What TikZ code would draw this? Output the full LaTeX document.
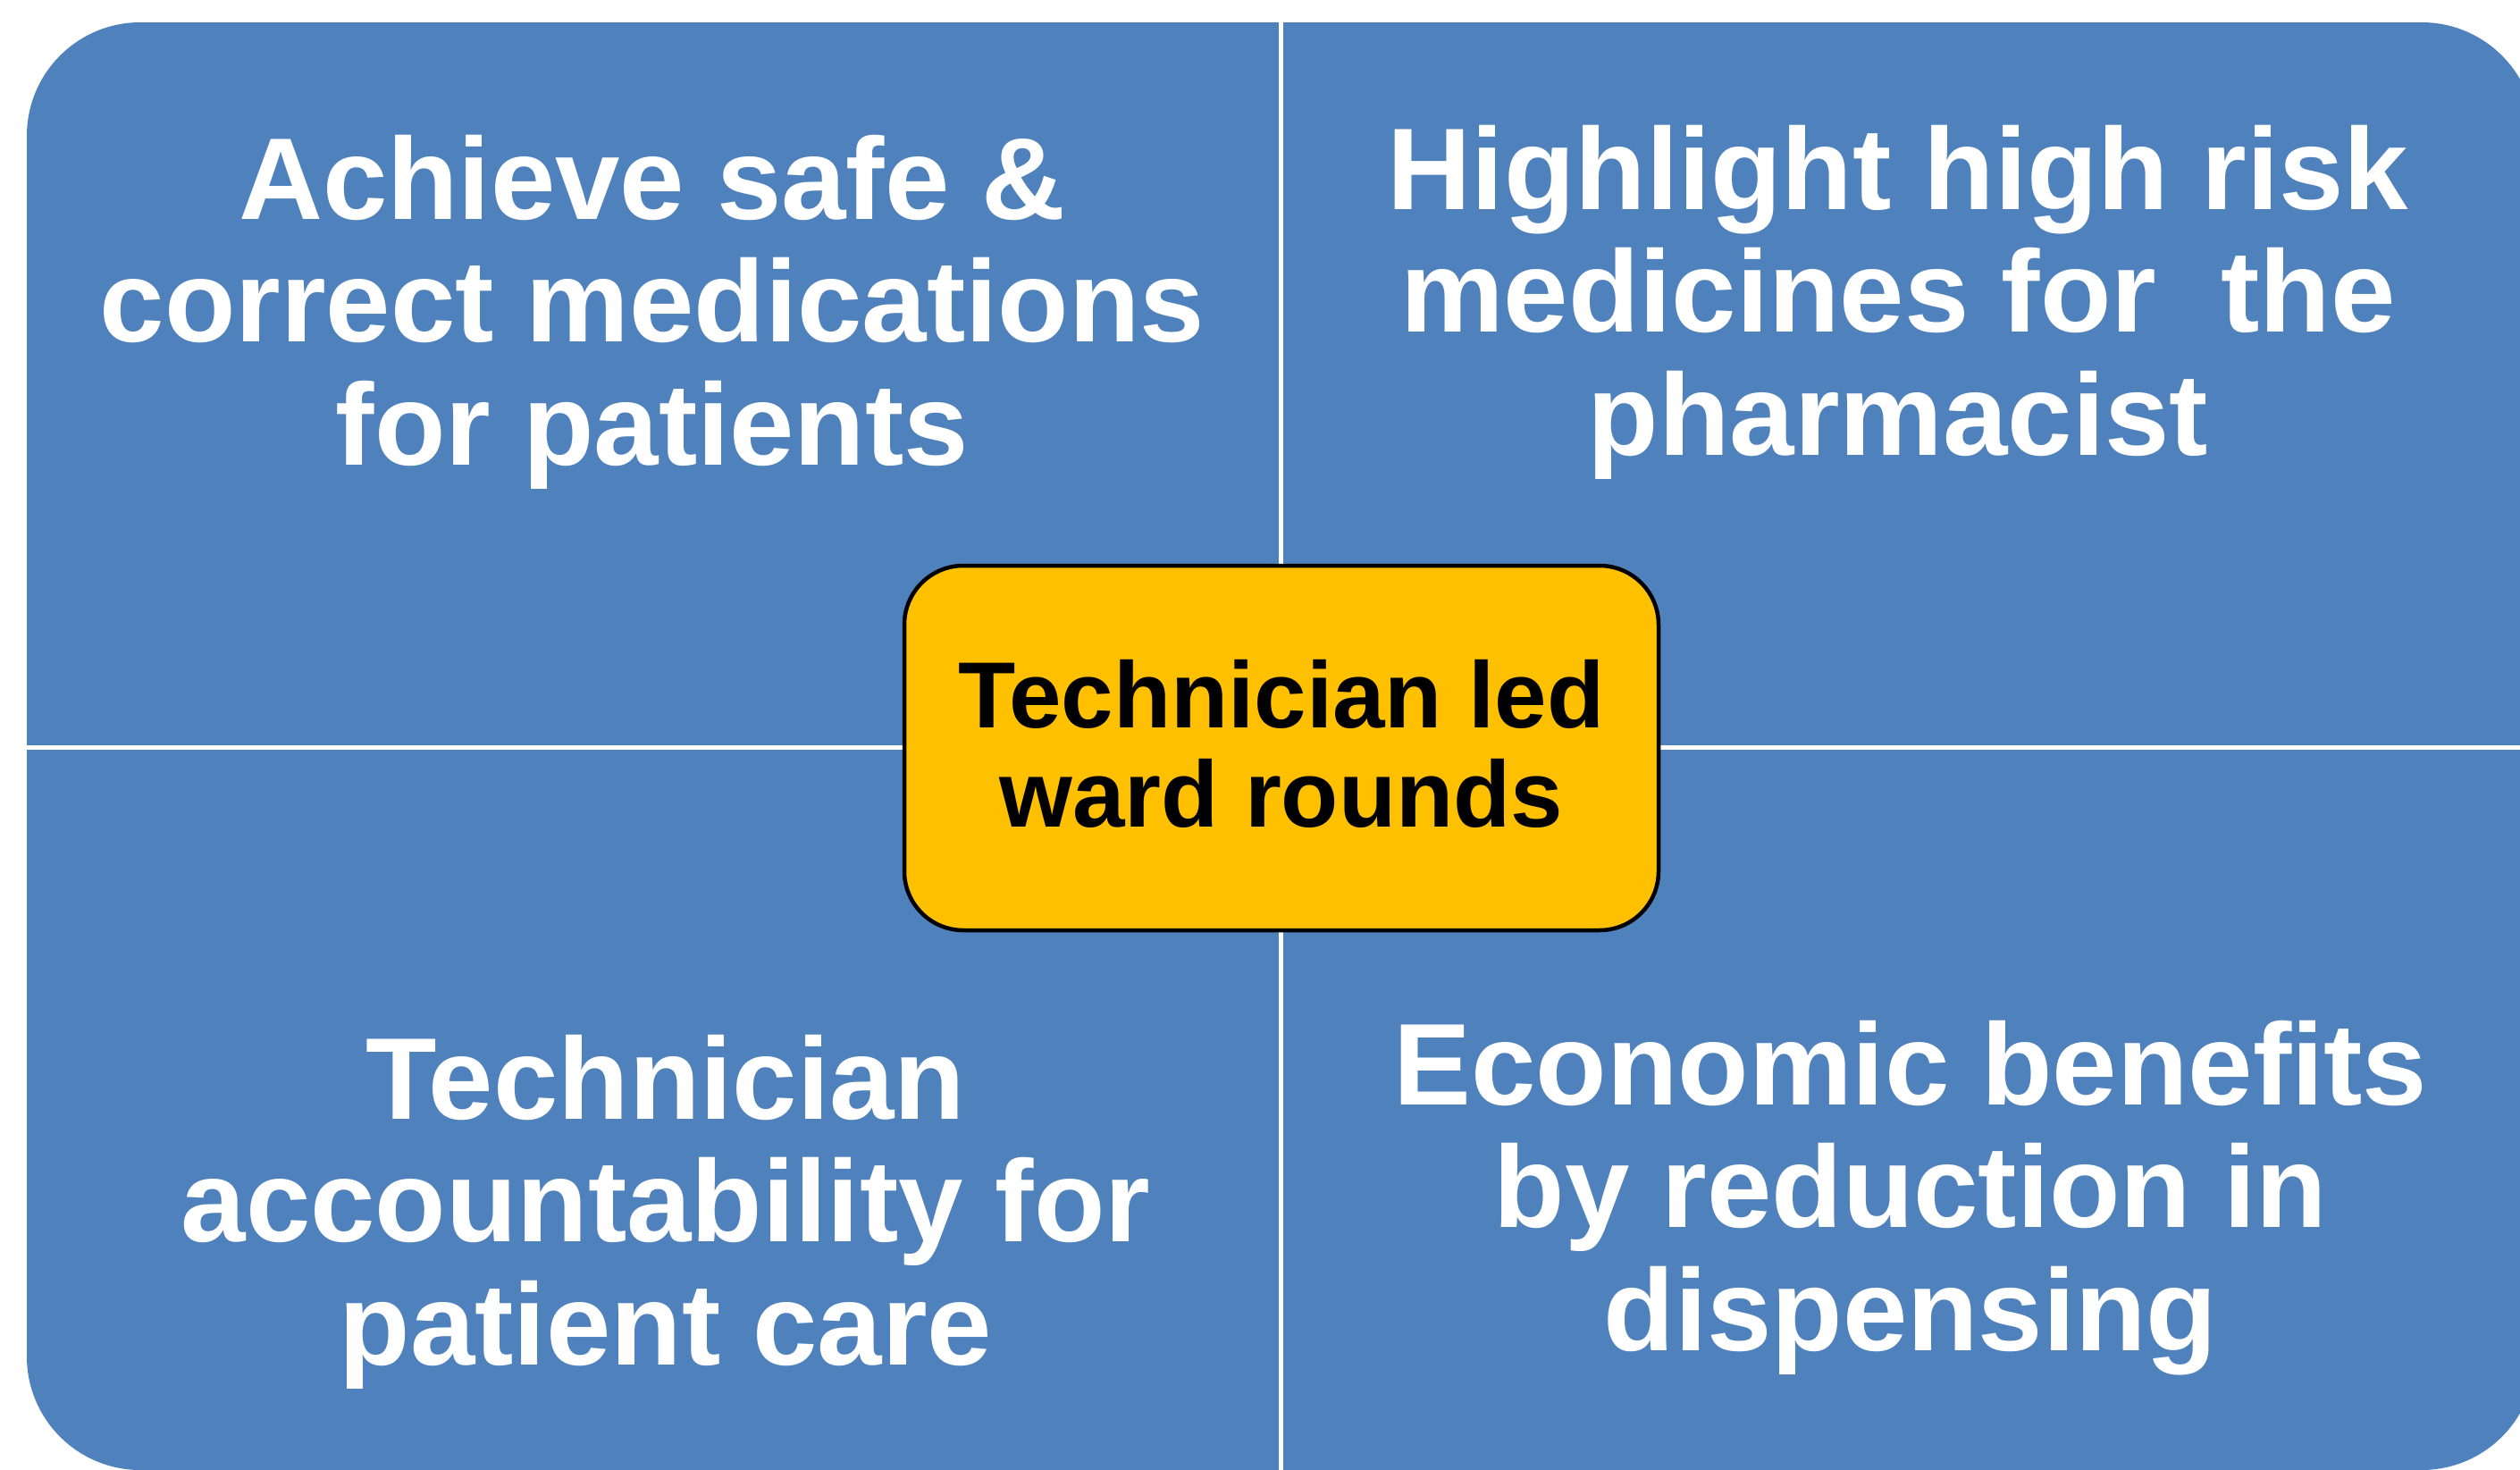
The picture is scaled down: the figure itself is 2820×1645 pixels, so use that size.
\documentclass[tikz,border=0pt]{standalone}
\usepackage{fontspec}
\setmainfont{Liberation Sans}
\usepackage{xcolor}

\definecolor{quadblue}{HTML}{4F81BD}
\definecolor{hubgold}{HTML}{FFC000}

\begin{document}
\begin{tikzpicture}[x=0.01cm, y=-0.01cm]
	
	\useasboundingbox (0,0) rectangle (2820,1645);
	\clip (0,0) rectangle (2820,1645);
	
	% blue panel, cut into four by the white gaps
	\fill[quadblue, rounded corners=1.27cm] (30,25) rectangle (2837,1645);
	\draw[white, line width=0.05cm] (1433,25) -- (1433,1645);
	\draw[white, line width=0.05cm] (30,836) -- (2837,836);
	
	% base anchor sits on the last line
	\begin{scope}
		\tikzstyle{every node}=[anchor=base, align=center, inner sep=0pt, text=white,
		font=\fontsize{37}{39}\selectfont\bfseries]
		
		\node (safe) at (730,520) {Achieve safe \&\\correct medications\\for patients};
		\node (risk) at (2124,509) {Highlight high risk\\medicines for\ \ the\\pharmacist};
		\node (acct) at (745,1527) {Technician\\accountability for\\patient care};
		\node (econ) at (2138,1511) {Economic benefits\\by reduction in\\dispensing};
	\end{scope}
	
	% centre box
	\draw[fill=hubgold, line width=0.045cm, rounded corners=0.66cm] (1012,633) rectangle (1856,1041);
	\node[anchor=base, align=center, inner sep=0pt, font=\fontsize{29.9}{31.3}\selectfont\bfseries] (hub) at (1434,925) {Technician led\\ward rounds};
	
\end{tikzpicture}
\end{document}
